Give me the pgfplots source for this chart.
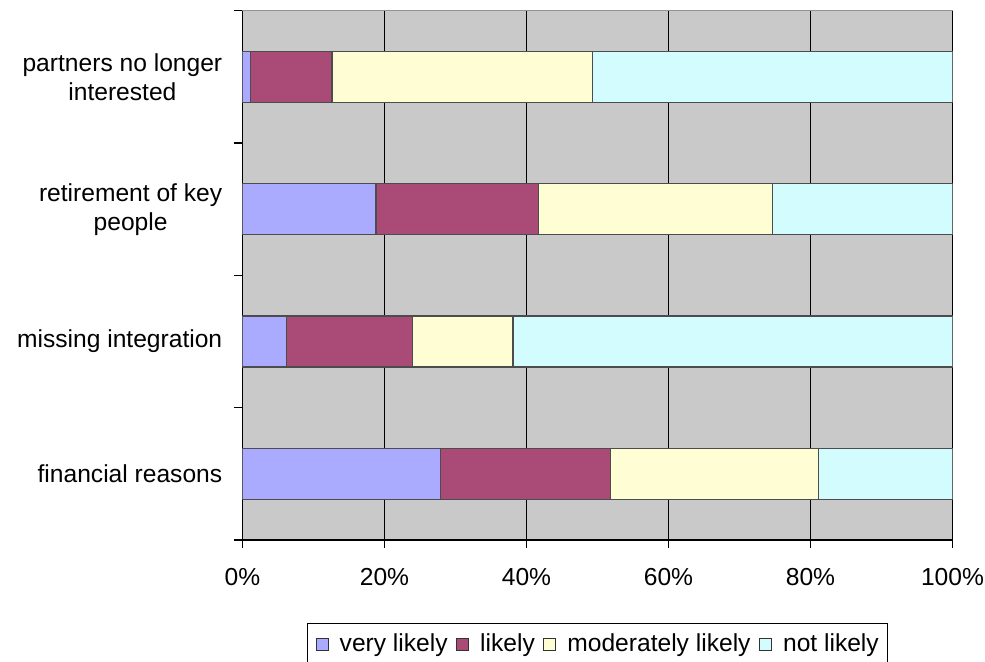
\documentclass[border=0pt]{standalone}
\usepackage{pgfplots}
\pgfplotsset{compat=1.18}
\usepackage{fontspec}
\setmainfont{Liberation Sans}

\definecolor{plotbg}{HTML}{C9C9C9}
\definecolor{cvery}{HTML}{AAAAFF}
\definecolor{clikely}{HTML}{AA4A76}
\definecolor{cmod}{HTML}{FFFDD3}
\definecolor{cnot}{HTML}{D3FCFF}
\newcommand{\chartfont}{\fontsize{12.3}{14.5}\selectfont}

\begin{document}
\begin{tikzpicture}
\begin{axis}[
  at={(0,0)}, anchor=south west,
  scale only axis, width=355pt, height=264.65pt,
  xbar stacked, bar width=25.5pt,
  xmin=0, xmax=100, ymin=-0.5, ymax=3.5,
  xtick={0,20,40,60,80,100},
  xticklabel={\pgfmathprintnumber{\tick}\%},
  ytick={-0.5,0.5,1.5,2.5,3.5},
  y tick label as interval,
  yticklabels={financial reasons, missing integration, {retirement of key\\people}, {partners no longer\\interested}},
  /pgf/number format/assume math mode=true,
  tick label style={font=\chartfont, black},
  yticklabel style={align=center, xshift=-2.6pt},
  xticklabel style={yshift=-6.5pt},
  axis x line*=bottom, axis y line*=left,
  axis line style={black, line width=0.6pt, -},
  axis background/.style={fill=plotbg, draw=gray!85, line width=0.6pt},
  xmajorgrids, grid style={black, line width=0.5pt},
  tick align=outside, major tick length=4pt,
  tick style={black, line width=0.6pt},
  legend style={at={(0.5,-0.1568)}, anchor=north, legend columns=-1,
    draw=black, line width=0.6pt, font=\chartfont,
    inner xsep=2.5pt, inner ysep=3pt,
    /tikz/every even column/.append style={column sep=0.5pt},
    /tikz/every odd column/.append style={column sep=3.5pt}},
  legend image code/.code={%
    \path[draw=none, fill=none] (0pt,0pt) rectangle (2pt,0pt);
    \draw[#1, draw=black!80, line width=0.5pt] (2pt,-3pt) rectangle (8pt,3pt);},
]
% order of categories from bottom to top: financial, missing, retirement, partners
\addplot[fill=cvery, draw=black!70, line width=0.6pt]
  coordinates {(27.9,0) (6.2,1) (18.8,2) (1.1,3)};
\addplot[fill=clikely, draw=black!70, line width=0.6pt]
  coordinates {(23.9,0) (17.8,1) (22.9,2) (11.5,3)};
\addplot[fill=cmod, draw=black!70, line width=0.6pt]
  coordinates {(29.3,0) (14.1,1) (32.9,2) (36.7,3)};
\addplot[fill=cnot, draw=black!70, line width=0.6pt]
  coordinates {(18.9,0) (61.9,1) (25.4,2) (50.7,3)};
\legend{very likely, likely, moderately likely, not likely}
\end{axis}
\pgfresetboundingbox
\path (-121.25pt,-60.5pt) rectangle (371.25pt,270pt);
\end{tikzpicture}
\end{document}
